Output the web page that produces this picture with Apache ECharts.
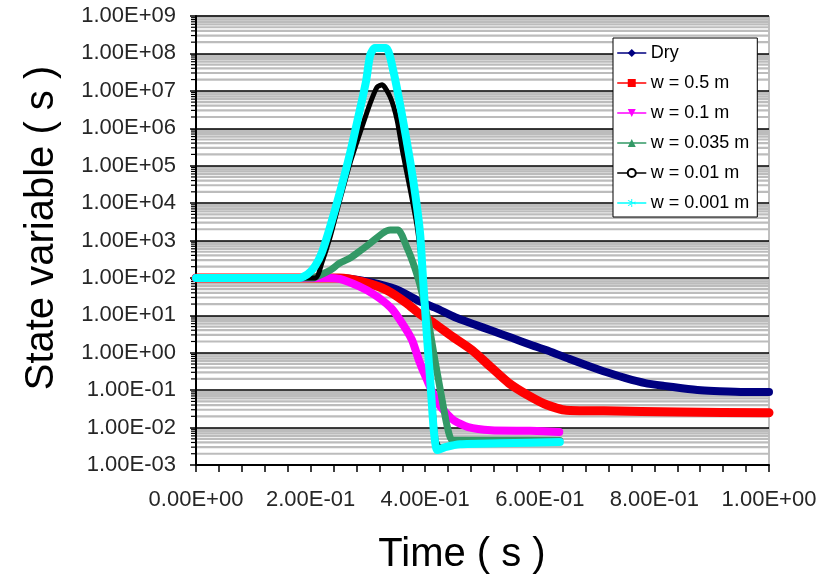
<!DOCTYPE html>
<html>
<head>
<meta charset="utf-8">
<script src="https://cdn.jsdelivr.net/npm/echarts@6/dist/echarts.min.js"></script>
<style>
  html, body { margin: 0; padding: 0; background: #fff; }
  #chart { width: 836px; height: 582px; }
</style>
</head>
<body>
<div id="chart"></div>
<script>
// Tick labels (Excel-style scientific notation)
const xTickLabels = ['0.00E+00', '2.00E-01', '4.00E-01', '6.00E-01', '8.00E-01', '1.00E+00'];
const yTickLabels = ['1.00E-03', '1.00E-02', '1.00E-01', '1.00E+00', '1.00E+01', '1.00E+02',
                     '1.00E+03', '1.00E+04', '1.00E+05', '1.00E+06', '1.00E+07', '1.00E+08', '1.00E+09'];

const seriesNames = ['Dry', 'w = 0.5 m', 'w = 0.1 m', 'w = 0.035 m', 'w = 0.01 m', 'w = 0.001 m'];

// Dry
const dryTime  = [0, 0.25, 0.286, 0.319, 0.353, 0.386, 0.419, 0.452, 0.485, 0.518, 0.551, 0.585, 0.620, 0.651, 0.684, 0.717, 0.750, 0.784, 0.817, 0.848, 0.881, 0.914, 0.958, 1.0];
const dryValue = [100, 100, 87, 68, 47, 25.5, 15.5, 8.9, 5.8, 3.8, 2.5, 1.6, 1.05, 0.69, 0.45, 0.30, 0.21, 0.155, 0.13, 0.113, 0.1, 0.094, 0.09, 0.09];

// w = 0.5 m
const w05Time  = [0, 0.25, 0.291, 0.333, 0.368, 0.391, 0.415, 0.449, 0.482, 0.515, 0.546, 0.579, 0.613, 0.646, 0.712, 0.843, 1.0];
const w05Value = [100, 100, 78, 47, 21, 10.7, 6.2, 2.6, 1.17, 0.41, 0.155, 0.074, 0.04, 0.029, 0.028, 0.026, 0.025];

// w = 0.1 m
const w01Time  = [0, 0.23, 0.251, 0.284, 0.312, 0.339, 0.356, 0.377, 0.389, 0.403, 0.422, 0.449, 0.475, 0.515, 0.583, 0.634];
const w01Value = [100, 100, 94, 60, 35, 16.5, 7.5, 2.2, 0.63, 0.19, 0.045, 0.016, 0.0103, 0.0085, 0.0082, 0.0076];

// w = 0.035 m
const w0035Time  = [0, 0.204, 0.216, 0.234, 0.251, 0.269, 0.281, 0.304, 0.326, 0.339, 0.353, 0.368, 0.379, 0.391, 0.405, 0.417, 0.428, 0.438, 0.447, 0.478, 0.531, 0.635];
const w0035Value = [100, 100, 118, 160, 250, 340, 460, 850, 1580, 1900, 1900, 660, 250, 64, 7.4, 0.63, 0.074, 0.0115, 0.0046, 0.0046, 0.0046, 0.0045];

// w = 0.01 m
const w001Time  = [0, 0.208, 0.220, 0.234, 0.251, 0.269, 0.286, 0.304, 0.316, 0.325, 0.339, 0.351, 0.361, 0.373, 0.386, 0.396, 0.405, 0.412, 0.419, 0.426, 0.461, 0.531, 0.635];
const w001Value = [100, 100, 265, 1230, 1.2e4, 1.2e5, 7.4e5, 4.7e6, 1.26e7, 1.45e7, 6.8e6, 1.65e6, 2.2e5, 2.7e4, 2300, 105, 2.2, 0.074, 0.0046, 0.003, 0.0037, 0.0038, 0.004];

// w = 0.001 m
const w0001Time  = [0, 0.181, 0.195, 0.208, 0.220, 0.234, 0.251, 0.269, 0.286, 0.297, 0.304, 0.312, 0.332, 0.344, 0.361, 0.379, 0.391, 0.396, 0.403, 0.410, 0.415, 0.421, 0.435, 0.461, 0.531, 0.635];
const w0001Value = [100, 100, 126, 210, 490, 2300, 1.9e4, 2.2e5, 3.1e6, 1.9e7, 9e7, 1.4e8, 1.4e8, 3.6e7, 1.7e6, 4.1e4, 1600, 105, 2.8, 0.1, 0.0085, 0.0025, 0.003, 0.0036, 0.0038, 0.0041];

const FONT = '"Liberation Sans", Arial, sans-serif';

function pairs(ts, vs) { return ts.map((t, i) => [t, vs[i]]); }

// Minor log gridlines at 2..9 within every decade of the value axis
const minorValues = [];
for (let e = -3; e < 9; e++) {
  for (let d = 2; d <= 9; d++) minorValues.push([0, d * Math.pow(10, e)]);
}

const asterisk = 'path://M9,0h2v20h-2z M1.5,4.2l1,-1.7l16,9.5l-1,1.7z M1.5,15.8l1,1.7l16,-9.5l-1,-1.7z';

function lineSeries(name, data, color, width, symbol, extra) {
  return Object.assign({
    name: name,
    type: 'line',
    data: data,
    showSymbol: false,
    symbol: symbol,
    color: color,
    clip: false,
    smooth: 0.2,
    z: 2,
    lineStyle: { color: color, width: width, cap: 'round', join: 'round' },
    itemStyle: { color: color },
    emphasis: { disabled: true }
  }, extra || {});
}

const chart = echarts.init(document.getElementById('chart'), null, { renderer: 'canvas' });

chart.setOption({
  animation: false,
  backgroundColor: '#ffffff',
  grid: {
    left: 196, top: 16, width: 573, height: 449,
    show: true, backgroundColor: 'transparent', borderColor: '#808080', borderWidth: 1,
    containLabel: false, outerBoundsMode: 'none'
  },
  legend: {
    orient: 'vertical',
    left: 613, top: 38,
    padding: [6, 8, 5, 4],
    itemWidth: 28, itemHeight: 10, itemGap: 12,
    backgroundColor: '#ffffff', borderColor: '#000000', borderWidth: 1, borderRadius: 0,
    selectedMode: false,
    lineStyle: { width: 1.5 },
    textStyle: { fontFamily: FONT, fontSize: 18, color: '#000' },
    data: seriesNames
  },
  xAxis: {
    type: 'value', min: 0, max: 1, interval: 0.04, z: 1.5,
    axisLine: { show: true, lineStyle: { color: '#000', width: 2 } },
    axisTick: { show: true, inside: false, length: 7, lineStyle: { color: '#000', width: 1.5 } },
    splitLine: { show: false },
    axisLabel: {
      margin: 24, fontFamily: FONT, fontSize: 22, color: '#262626',
      formatter: function (v) {
        const k = v / 0.2, r = Math.round(k);
        return Math.abs(k - r) < 1e-6 ? xTickLabels[r] : '';
      }
    }
  },
  yAxis: {
    type: 'log', logBase: 10, min: 1e-3, max: 1e9, interval: 1, z: 1.5,
    axisLine: { show: true, lineStyle: { color: '#000', width: 2 } },
    axisTick: { show: true, inside: false, length: 6, lineStyle: { color: '#000', width: 1.5 } },
    splitLine: { show: true, lineStyle: { color: '#000', width: 1.5 } },
    axisLabel: {
      margin: 20, fontFamily: FONT, fontSize: 22, color: '#262626',
      formatter: function (v) {
        const i = Math.round(Math.log10(v)) + 3;
        return yTickLabels[i] || '';
      }
    }
  },
  graphic: [
    { type: 'text', x: 42, y: 228, rotation: Math.PI / 2,
      style: { text: 'State variable ( s )', font: '40px ' + FONT, fill: '#000', textAlign: 'center', textVerticalAlign: 'middle' } },
    { type: 'text', x: 462, y: 555,
      style: { text: 'Time ( s )', font: '40px ' + FONT, fill: '#000', textAlign: 'center', textVerticalAlign: 'middle' } }
  ],
  series: [
    {
      // minor gridlines and minor ticks of the log axis
      name: 'minor',
      type: 'custom',
      silent: true,
      z: 1,
      data: minorValues,
      encode: { x: 0, y: 1 },
      renderItem: function (params, api) {
        const cs = params.coordSys;
        const y = api.coord([0, api.value(1)])[1];
        return {
          type: 'group',
          children: [
            { type: 'line', shape: { x1: cs.x, y1: y, x2: cs.x + cs.width, y2: y },
              style: { stroke: '#bcbcbc', lineWidth: 2.2 } },
            { type: 'line', shape: { x1: cs.x - 5, y1: y, x2: cs.x, y2: y },
              style: { stroke: '#000', lineWidth: 1.2 } }
          ]
        };
      }
    },
    lineSeries(seriesNames[0], pairs(dryTime, dryValue), '#000080', 8, 'diamond'),
    lineSeries(seriesNames[1], pairs(w05Time, w05Value), '#ff0000', 9, 'rect'),
    lineSeries(seriesNames[2], pairs(w01Time, w01Value), '#ff00ff', 8, 'triangle', { symbolRotate: 180 }),
    lineSeries(seriesNames[3], pairs(w0035Time, w0035Value), '#339966', 7, 'triangle'),
    lineSeries(seriesNames[4], pairs(w001Time, w001Value), '#000000', 5, 'emptyCircle'),
    lineSeries(seriesNames[5], pairs(w0001Time, w0001Value), '#00ffff', 8, asterisk)
  ]
});
</script>
</body>
</html>
